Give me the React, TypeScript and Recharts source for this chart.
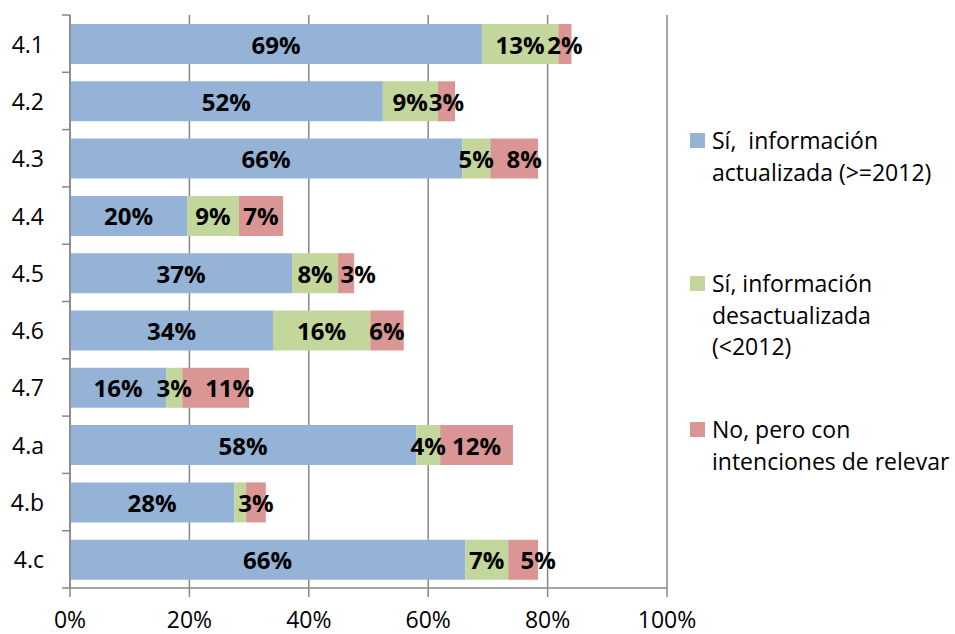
import { Bar, BarChart, CartesianGrid, LabelList, XAxis, YAxis } from "recharts"

const categories = ["4.1", "4.2", "4.3", "4.4", "4.5", "4.6", "4.7", "4.a", "4.b", "4.c"]
const actualizada = [69.0, 52.4, 65.7, 19.6, 37.2, 34.0, 16.1, 58.0, 27.5, 66.2]
const desactualizada = [12.8, 9.2, 4.7, 8.7, 7.7, 16.3, 2.7, 4.0, 2.0, 7.2]
const intenciones = [2.2, 2.9, 8.0, 7.4, 2.7, 5.6, 11.2, 12.2, 3.3, 5.0]
// the 4.b green segment carries no label in the original
const hiddenGreenLabels = ["4.b"]
const xTicks = [0, 20, 40, 60, 80, 100]

const series = [
  { key: "actualizada", lines: ["Sí,  información", "actualizada (>=2012)"], color: "#95B3D7" },
  { key: "desactualizada", lines: ["Sí, información", "desactualizada", "(<2012)"], color: "#C3D69B" },
  { key: "intenciones", lines: ["No, pero con", "intenciones de relevar"], color: "#D99694" },
]

const data = categories.map((cat, i) => ({
  cat,
  actualizada: actualizada[i],
  desactualizada: desactualizada[i],
  intenciones: intenciones[i],
}))

const FONT = "'Open Sans', sans-serif"
const GRID = "#878787"
const TOP = 15
const BOTTOM = 588
const AXIS_X = 70
const BAND = (BOTTOM - TOP) / categories.length

// some red labels were dragged a little to the right in the original
const redNudge: Record<string, number> = { "4.3": 10, "4.5": 12, "4.7": 14, "4.c": 15 }

function CatTick(props: any) {
  const { y, payload, index } = props
  return (
    <g>
      <text x={44} y={y} textAnchor="end" dominantBaseline="central" fontSize={23} fill="#000" fontFamily={FONT}>
        {payload.value}
      </text>
      <line x1={AXIS_X - 8} x2={AXIS_X} y1={y - BAND / 2} y2={y - BAND / 2} stroke={GRID} strokeWidth={1.5} />
      {index === categories.length - 1 && (
        <line x1={AXIS_X - 8} x2={AXIS_X} y1={y + BAND / 2} y2={y + BAND / 2} stroke={GRID} strokeWidth={1.5} />
      )}
    </g>
  )
}

function makeLabel(key: string) {
  return (props: any) => {
    const { x, y, width, height, value, index } = props
    const cat = categories[index]
    if (key === "desactualizada" && hiddenGreenLabels.includes(cat)) return null
    const dx = key === "intenciones" ? redNudge[cat] || 0 : 0
    return (
      <text
        x={x + width / 2 + dx}
        y={y + height / 2}
        textAnchor="middle"
        dominantBaseline="central"
        fontSize={24}
        fontWeight="bold"
        fill="#000"
        fontFamily={FONT}
      >
        {Math.round(value)}%
      </text>
    )
  }
}

const legendTops = [141, 284, 430]

export default function App() {
  return (
    <div style={{ position: "absolute", left: 0, top: 0, width: 955, height: 634, background: "#fff" }}>
      <BarChart
        width={955}
        height={634}
        data={data}
        layout="vertical"
        barSize={40}
        margin={{ top: TOP, right: 288, left: 0, bottom: 0 }}
      >
        <CartesianGrid horizontal={false} stroke={GRID} strokeWidth={1.5} />
        <XAxis
          type="number"
          domain={[0, 100]}
          ticks={xTicks}
          tickFormatter={(v) => `${v}%`}
          height={634 - BOTTOM}
          tickSize={9}
          tickMargin={15}
          tickLine={{ stroke: GRID, strokeWidth: 1.5 }}
          axisLine={{ stroke: GRID, strokeWidth: 1.5 }}
          tick={{ fill: "#000", fontSize: 23, fontFamily: FONT }}
        />
        <YAxis
          type="category"
          dataKey="cat"
          width={AXIS_X}
          tickLine={false}
          axisLine={{ stroke: GRID, strokeWidth: 1.5 }}
          tick={<CatTick />}
        />
        {series.map((s) => (
          <Bar key={s.key} dataKey={s.key} stackId="a" fill={s.color} isAnimationActive={false}>
            <LabelList dataKey={s.key} content={makeLabel(s.key)} />
          </Bar>
        ))}
      </BarChart>
      {series.map((s, i) => (
        <div
          key={s.key}
          style={{
            position: "absolute",
            left: 690,
            top: legendTops[i] - 16,
            fontFamily: FONT,
            fontSize: 23,
            lineHeight: "31.5px",
            color: "#000",
            whiteSpace: "pre",
          }}
        >
          <span
            style={{
              position: "absolute",
              left: 0,
              top: 8,
              width: 15,
              height: 15,
              background: s.color,
            }}
          />
          <div style={{ marginLeft: 22 }}>
            {s.lines.map((l) => (
              <div key={l}>{l}</div>
            ))}
          </div>
        </div>
      ))}
    </div>
  )
}
